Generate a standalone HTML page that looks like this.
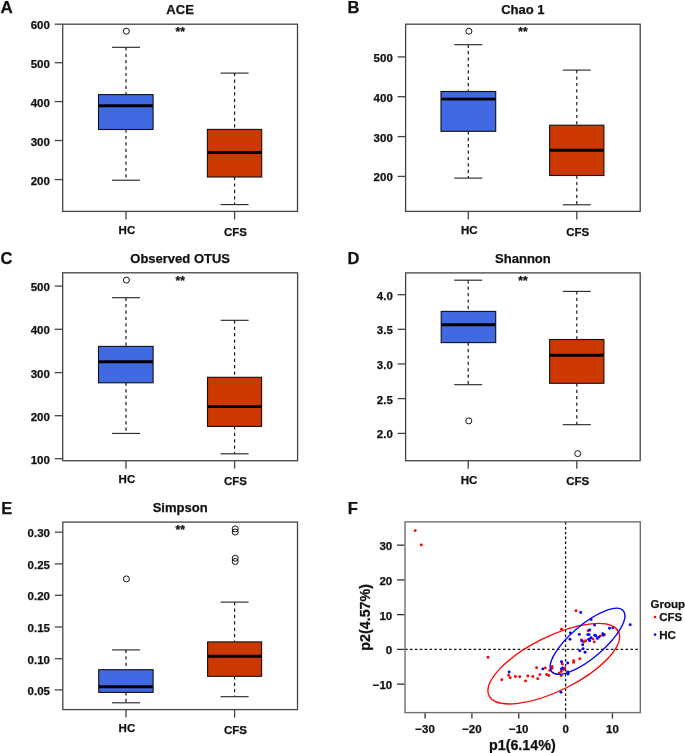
<!DOCTYPE html>
<html><head><meta charset="utf-8"><style>
html,body{margin:0;padding:0;background:#fff;}
body{width:685px;height:753px;overflow:hidden;}
svg{display:block;font-family:"Liberation Sans", sans-serif;will-change:transform;}
</style></head><body>
<svg width="685" height="753" viewBox="0 0 685 753">
<rect width="685" height="753" fill="#fff"/>
<text x="0.6" y="12.8" font-size="17" text-anchor="start" font-weight="bold" fill="#111" stroke="#111" stroke-width="0.25" >A</text>
<text x="180.1" y="13.9" font-size="13" text-anchor="middle" font-weight="bold" fill="#111" stroke="#111" stroke-width="0.25" >ACE</text>
<text x="180.2" y="36.3" font-size="12" text-anchor="middle" font-weight="bold" fill="#111" stroke="#111" stroke-width="0.25" >**</text>
<line x1="126.0" y1="47.3" x2="126.0" y2="94.6" stroke="#111" stroke-width="1.15" stroke-dasharray="3.2,3.2" />
<line x1="126.0" y1="129.5" x2="126.0" y2="180.2" stroke="#111" stroke-width="1.15" stroke-dasharray="3.2,3.2" />
<line x1="112.0" y1="47.3" x2="140.0" y2="47.3" stroke="#222" stroke-width="1.1" />
<line x1="112.0" y1="180.2" x2="140.0" y2="180.2" stroke="#222" stroke-width="1.1" />
<rect x="98.5" y="94.6" width="54.599999999999994" height="34.900000000000006" fill="#4169E1" stroke="#111" stroke-width="1.1"/>
<line x1="98.8" y1="105.8" x2="152.79999999999998" y2="105.8" stroke="#000" stroke-width="2.9" />
<circle cx="126.3" cy="31.2" r="3" fill="none" stroke="#111" stroke-width="1.0"/>
<line x1="234.6" y1="73.1" x2="234.6" y2="129.4" stroke="#111" stroke-width="1.15" stroke-dasharray="3.2,3.2" />
<line x1="234.6" y1="177.0" x2="234.6" y2="204.6" stroke="#111" stroke-width="1.15" stroke-dasharray="3.2,3.2" />
<line x1="220.6" y1="73.1" x2="248.6" y2="73.1" stroke="#222" stroke-width="1.1" />
<line x1="220.6" y1="204.6" x2="248.6" y2="204.6" stroke="#222" stroke-width="1.1" />
<rect x="207.4" y="129.4" width="54.29999999999998" height="47.599999999999994" fill="#CD3700" stroke="#111" stroke-width="1.1"/>
<line x1="207.70000000000002" y1="152.5" x2="261.4" y2="152.5" stroke="#000" stroke-width="2.9" />
<rect x="62.7" y="24.2" width="234.8" height="187.20000000000002" fill="none" stroke="#444" stroke-width="1.3"/>
<line x1="54.7" y1="24.2" x2="62.7" y2="24.2" stroke="#444" stroke-width="1.3" />
<text x="49.900000000000006" y="29.2" font-size="11.5" text-anchor="end" font-weight="bold" fill="#111" stroke="#111" stroke-width="0.25" >600</text>
<line x1="54.7" y1="62.7" x2="62.7" y2="62.7" stroke="#444" stroke-width="1.3" />
<text x="49.900000000000006" y="67.7" font-size="11.5" text-anchor="end" font-weight="bold" fill="#111" stroke="#111" stroke-width="0.25" >500</text>
<line x1="54.7" y1="101.6" x2="62.7" y2="101.6" stroke="#444" stroke-width="1.3" />
<text x="49.900000000000006" y="106.6" font-size="11.5" text-anchor="end" font-weight="bold" fill="#111" stroke="#111" stroke-width="0.25" >400</text>
<line x1="54.7" y1="140.5" x2="62.7" y2="140.5" stroke="#444" stroke-width="1.3" />
<text x="49.900000000000006" y="145.5" font-size="11.5" text-anchor="end" font-weight="bold" fill="#111" stroke="#111" stroke-width="0.25" >300</text>
<line x1="54.7" y1="179.6" x2="62.7" y2="179.6" stroke="#444" stroke-width="1.3" />
<text x="49.900000000000006" y="184.6" font-size="11.5" text-anchor="end" font-weight="bold" fill="#111" stroke="#111" stroke-width="0.25" >200</text>
<line x1="126.0" y1="211.4" x2="126.0" y2="219.4" stroke="#444" stroke-width="1.3" />
<line x1="234.6" y1="211.4" x2="234.6" y2="219.4" stroke="#444" stroke-width="1.3" />
<text x="126.9" y="234.2" font-size="11.5" text-anchor="middle" font-weight="bold" fill="#111" stroke="#111" stroke-width="0.25" >HC</text>
<text x="235.5" y="236.4" font-size="11.5" text-anchor="middle" font-weight="bold" fill="#111" stroke="#111" stroke-width="0.25" >CFS</text>
<text x="347.5" y="12.8" font-size="16.5" text-anchor="start" font-weight="bold" fill="#111" stroke="#111" stroke-width="0.25" >B</text>
<text x="522.9000000000001" y="13.9" font-size="13" text-anchor="middle" font-weight="bold" fill="#111" stroke="#111" stroke-width="0.25" >Chao 1</text>
<text x="523.0000000000001" y="36.3" font-size="12" text-anchor="middle" font-weight="bold" fill="#111" stroke="#111" stroke-width="0.25" >**</text>
<line x1="468.3" y1="44.7" x2="468.3" y2="91.5" stroke="#111" stroke-width="1.15" stroke-dasharray="3.2,3.2" />
<line x1="468.3" y1="131.3" x2="468.3" y2="178.1" stroke="#111" stroke-width="1.15" stroke-dasharray="3.2,3.2" />
<line x1="454.3" y1="44.7" x2="482.3" y2="44.7" stroke="#222" stroke-width="1.1" />
<line x1="454.3" y1="178.1" x2="482.3" y2="178.1" stroke="#222" stroke-width="1.1" />
<rect x="441.0" y="91.5" width="54.69999999999999" height="39.80000000000001" fill="#4169E1" stroke="#111" stroke-width="1.1"/>
<line x1="441.3" y1="99.1" x2="495.4" y2="99.1" stroke="#000" stroke-width="2.9" />
<circle cx="468.9" cy="31.2" r="3" fill="none" stroke="#111" stroke-width="1.0"/>
<line x1="576.8" y1="70.1" x2="576.8" y2="125.2" stroke="#111" stroke-width="1.15" stroke-dasharray="3.2,3.2" />
<line x1="576.8" y1="175.5" x2="576.8" y2="204.8" stroke="#111" stroke-width="1.15" stroke-dasharray="3.2,3.2" />
<line x1="562.8" y1="70.1" x2="590.8" y2="70.1" stroke="#222" stroke-width="1.1" />
<line x1="562.8" y1="204.8" x2="590.8" y2="204.8" stroke="#222" stroke-width="1.1" />
<rect x="549.6" y="125.2" width="54.299999999999955" height="50.3" fill="#CD3700" stroke="#111" stroke-width="1.1"/>
<line x1="549.9" y1="150.3" x2="603.6" y2="150.3" stroke="#000" stroke-width="2.9" />
<rect x="405.6" y="24.2" width="234.60000000000002" height="187.20000000000002" fill="none" stroke="#444" stroke-width="1.3"/>
<line x1="397.6" y1="56.9" x2="405.6" y2="56.9" stroke="#444" stroke-width="1.3" />
<text x="392.8" y="61.9" font-size="11.5" text-anchor="end" font-weight="bold" fill="#111" stroke="#111" stroke-width="0.25" >500</text>
<line x1="397.6" y1="96.7" x2="405.6" y2="96.7" stroke="#444" stroke-width="1.3" />
<text x="392.8" y="101.7" font-size="11.5" text-anchor="end" font-weight="bold" fill="#111" stroke="#111" stroke-width="0.25" >400</text>
<line x1="397.6" y1="136.6" x2="405.6" y2="136.6" stroke="#444" stroke-width="1.3" />
<text x="392.8" y="141.6" font-size="11.5" text-anchor="end" font-weight="bold" fill="#111" stroke="#111" stroke-width="0.25" >300</text>
<line x1="397.6" y1="176.4" x2="405.6" y2="176.4" stroke="#444" stroke-width="1.3" />
<text x="392.8" y="181.4" font-size="11.5" text-anchor="end" font-weight="bold" fill="#111" stroke="#111" stroke-width="0.25" >200</text>
<line x1="468.3" y1="211.4" x2="468.3" y2="219.4" stroke="#444" stroke-width="1.3" />
<line x1="576.8" y1="211.4" x2="576.8" y2="219.4" stroke="#444" stroke-width="1.3" />
<text x="469.2" y="234.2" font-size="11.5" text-anchor="middle" font-weight="bold" fill="#111" stroke="#111" stroke-width="0.25" >HC</text>
<text x="577.6999999999999" y="235.5" font-size="11.5" text-anchor="middle" font-weight="bold" fill="#111" stroke="#111" stroke-width="0.25" >CFS</text>
<text x="0.6" y="263.6" font-size="16.5" text-anchor="start" font-weight="bold" fill="#111" stroke="#111" stroke-width="0.25" >C</text>
<text x="180.15" y="263.4" font-size="13" text-anchor="middle" font-weight="bold" fill="#111" stroke="#111" stroke-width="0.25" >Observed OTUS</text>
<text x="180.25" y="285.1" font-size="12" text-anchor="middle" font-weight="bold" fill="#111" stroke="#111" stroke-width="0.25" >**</text>
<line x1="126.0" y1="297.7" x2="126.0" y2="346.4" stroke="#111" stroke-width="1.15" stroke-dasharray="3.2,3.2" />
<line x1="126.0" y1="382.8" x2="126.0" y2="433.4" stroke="#111" stroke-width="1.15" stroke-dasharray="3.2,3.2" />
<line x1="112.0" y1="297.7" x2="140.0" y2="297.7" stroke="#222" stroke-width="1.1" />
<line x1="112.0" y1="433.4" x2="140.0" y2="433.4" stroke="#222" stroke-width="1.1" />
<rect x="98.5" y="346.4" width="54.599999999999994" height="36.400000000000034" fill="#4169E1" stroke="#111" stroke-width="1.1"/>
<line x1="98.8" y1="361.8" x2="152.79999999999998" y2="361.8" stroke="#000" stroke-width="2.9" />
<circle cx="126.4" cy="280.1" r="3" fill="none" stroke="#111" stroke-width="1.0"/>
<line x1="234.6" y1="320.3" x2="234.6" y2="377.3" stroke="#111" stroke-width="1.15" stroke-dasharray="3.2,3.2" />
<line x1="234.6" y1="426.4" x2="234.6" y2="453.8" stroke="#111" stroke-width="1.15" stroke-dasharray="3.2,3.2" />
<line x1="220.6" y1="320.3" x2="248.6" y2="320.3" stroke="#222" stroke-width="1.1" />
<line x1="220.6" y1="453.8" x2="248.6" y2="453.8" stroke="#222" stroke-width="1.1" />
<rect x="207.5" y="377.3" width="54.10000000000002" height="49.099999999999966" fill="#CD3700" stroke="#111" stroke-width="1.1"/>
<line x1="207.8" y1="406.6" x2="261.3" y2="406.6" stroke="#000" stroke-width="2.9" />
<rect x="62.7" y="272.8" width="234.90000000000003" height="187.89999999999998" fill="none" stroke="#444" stroke-width="1.3"/>
<line x1="54.7" y1="286.1" x2="62.7" y2="286.1" stroke="#444" stroke-width="1.3" />
<text x="49.900000000000006" y="291.1" font-size="11.5" text-anchor="end" font-weight="bold" fill="#111" stroke="#111" stroke-width="0.25" >500</text>
<line x1="54.7" y1="329.3" x2="62.7" y2="329.3" stroke="#444" stroke-width="1.3" />
<text x="49.900000000000006" y="334.3" font-size="11.5" text-anchor="end" font-weight="bold" fill="#111" stroke="#111" stroke-width="0.25" >400</text>
<line x1="54.7" y1="372.6" x2="62.7" y2="372.6" stroke="#444" stroke-width="1.3" />
<text x="49.900000000000006" y="377.6" font-size="11.5" text-anchor="end" font-weight="bold" fill="#111" stroke="#111" stroke-width="0.25" >300</text>
<line x1="54.7" y1="415.7" x2="62.7" y2="415.7" stroke="#444" stroke-width="1.3" />
<text x="49.900000000000006" y="420.7" font-size="11.5" text-anchor="end" font-weight="bold" fill="#111" stroke="#111" stroke-width="0.25" >200</text>
<line x1="54.7" y1="458.7" x2="62.7" y2="458.7" stroke="#444" stroke-width="1.3" />
<text x="49.900000000000006" y="463.7" font-size="11.5" text-anchor="end" font-weight="bold" fill="#111" stroke="#111" stroke-width="0.25" >100</text>
<line x1="126.0" y1="460.7" x2="126.0" y2="468.7" stroke="#444" stroke-width="1.3" />
<line x1="234.6" y1="460.7" x2="234.6" y2="468.7" stroke="#444" stroke-width="1.3" />
<text x="126.9" y="483.2" font-size="11.5" text-anchor="middle" font-weight="bold" fill="#111" stroke="#111" stroke-width="0.25" >HC</text>
<text x="235.5" y="484.6" font-size="11.5" text-anchor="middle" font-weight="bold" fill="#111" stroke="#111" stroke-width="0.25" >CFS</text>
<text x="347.5" y="263.6" font-size="16.5" text-anchor="start" font-weight="bold" fill="#111" stroke="#111" stroke-width="0.25" >D</text>
<text x="522.9000000000001" y="263.4" font-size="13" text-anchor="middle" font-weight="bold" fill="#111" stroke="#111" stroke-width="0.25" >Shannon</text>
<text x="523.0000000000001" y="285.1" font-size="12" text-anchor="middle" font-weight="bold" fill="#111" stroke="#111" stroke-width="0.25" >**</text>
<line x1="468.2" y1="280.2" x2="468.2" y2="311.4" stroke="#111" stroke-width="1.15" stroke-dasharray="3.2,3.2" />
<line x1="468.2" y1="342.6" x2="468.2" y2="384.7" stroke="#111" stroke-width="1.15" stroke-dasharray="3.2,3.2" />
<line x1="454.2" y1="280.2" x2="482.2" y2="280.2" stroke="#222" stroke-width="1.1" />
<line x1="454.2" y1="384.7" x2="482.2" y2="384.7" stroke="#222" stroke-width="1.1" />
<rect x="441.2" y="311.4" width="54.5" height="31.200000000000045" fill="#4169E1" stroke="#111" stroke-width="1.1"/>
<line x1="441.5" y1="324.7" x2="495.4" y2="324.7" stroke="#000" stroke-width="2.9" />
<circle cx="468.8" cy="420.9" r="3" fill="none" stroke="#111" stroke-width="1.0"/>
<line x1="576.8" y1="291.4" x2="576.8" y2="339.5" stroke="#111" stroke-width="1.15" stroke-dasharray="3.2,3.2" />
<line x1="576.8" y1="383.3" x2="576.8" y2="424.7" stroke="#111" stroke-width="1.15" stroke-dasharray="3.2,3.2" />
<line x1="562.8" y1="291.4" x2="590.8" y2="291.4" stroke="#222" stroke-width="1.1" />
<line x1="562.8" y1="424.7" x2="590.8" y2="424.7" stroke="#222" stroke-width="1.1" />
<rect x="549.6" y="339.5" width="54.299999999999955" height="43.80000000000001" fill="#CD3700" stroke="#111" stroke-width="1.1"/>
<line x1="549.9" y1="355.3" x2="603.6" y2="355.3" stroke="#000" stroke-width="2.9" />
<circle cx="577.7" cy="453.6" r="3" fill="none" stroke="#111" stroke-width="1.0"/>
<rect x="405.6" y="272.9" width="234.60000000000002" height="187.8" fill="none" stroke="#444" stroke-width="1.3"/>
<line x1="397.6" y1="294.7" x2="405.6" y2="294.7" stroke="#444" stroke-width="1.3" />
<text x="392.8" y="299.7" font-size="11.5" text-anchor="end" font-weight="bold" fill="#111" stroke="#111" stroke-width="0.25" >4.0</text>
<line x1="397.6" y1="329.3" x2="405.6" y2="329.3" stroke="#444" stroke-width="1.3" />
<text x="392.8" y="334.3" font-size="11.5" text-anchor="end" font-weight="bold" fill="#111" stroke="#111" stroke-width="0.25" >3.5</text>
<line x1="397.6" y1="363.9" x2="405.6" y2="363.9" stroke="#444" stroke-width="1.3" />
<text x="392.8" y="368.9" font-size="11.5" text-anchor="end" font-weight="bold" fill="#111" stroke="#111" stroke-width="0.25" >3.0</text>
<line x1="397.6" y1="398.6" x2="405.6" y2="398.6" stroke="#444" stroke-width="1.3" />
<text x="392.8" y="403.6" font-size="11.5" text-anchor="end" font-weight="bold" fill="#111" stroke="#111" stroke-width="0.25" >2.5</text>
<line x1="397.6" y1="433.4" x2="405.6" y2="433.4" stroke="#444" stroke-width="1.3" />
<text x="392.8" y="438.4" font-size="11.5" text-anchor="end" font-weight="bold" fill="#111" stroke="#111" stroke-width="0.25" >2.0</text>
<line x1="468.2" y1="460.7" x2="468.2" y2="468.7" stroke="#444" stroke-width="1.3" />
<line x1="576.8" y1="460.7" x2="576.8" y2="468.7" stroke="#444" stroke-width="1.3" />
<text x="469.09999999999997" y="483.8" font-size="11.5" text-anchor="middle" font-weight="bold" fill="#111" stroke="#111" stroke-width="0.25" >HC</text>
<text x="577.6999999999999" y="484.6" font-size="11.5" text-anchor="middle" font-weight="bold" fill="#111" stroke="#111" stroke-width="0.25" >CFS</text>
<text x="1.2" y="514.2" font-size="16.5" text-anchor="start" font-weight="bold" fill="#111" stroke="#111" stroke-width="0.25" >E</text>
<text x="180.15" y="511.7" font-size="13" text-anchor="middle" font-weight="bold" fill="#111" stroke="#111" stroke-width="0.25" >Simpson</text>
<text x="180.25" y="534.3" font-size="12" text-anchor="middle" font-weight="bold" fill="#111" stroke="#111" stroke-width="0.25" >**</text>
<line x1="126.0" y1="649.9" x2="126.0" y2="669.7" stroke="#111" stroke-width="1.15" stroke-dasharray="3.2,3.2" />
<line x1="126.0" y1="692.4" x2="126.0" y2="702.8" stroke="#111" stroke-width="1.15" stroke-dasharray="3.2,3.2" />
<line x1="112.0" y1="649.9" x2="140.0" y2="649.9" stroke="#222" stroke-width="1.1" />
<line x1="112.0" y1="702.8" x2="140.0" y2="702.8" stroke="#222" stroke-width="1.1" />
<rect x="98.7" y="669.7" width="54.39999999999999" height="22.699999999999932" fill="#4169E1" stroke="#111" stroke-width="1.1"/>
<line x1="99.0" y1="686.7" x2="152.79999999999998" y2="686.7" stroke="#000" stroke-width="2.9" />
<circle cx="126.4" cy="578.9" r="3" fill="none" stroke="#111" stroke-width="1.0"/>
<line x1="234.6" y1="602.1" x2="234.6" y2="641.9" stroke="#111" stroke-width="1.15" stroke-dasharray="3.2,3.2" />
<line x1="234.6" y1="676.3" x2="234.6" y2="696.7" stroke="#111" stroke-width="1.15" stroke-dasharray="3.2,3.2" />
<line x1="220.6" y1="602.1" x2="248.6" y2="602.1" stroke="#222" stroke-width="1.1" />
<line x1="220.6" y1="696.7" x2="248.6" y2="696.7" stroke="#222" stroke-width="1.1" />
<rect x="207.6" y="641.9" width="54.00000000000003" height="34.39999999999998" fill="#CD3700" stroke="#111" stroke-width="1.1"/>
<line x1="207.9" y1="656.3" x2="261.3" y2="656.3" stroke="#000" stroke-width="2.9" />
<circle cx="235.2" cy="528.9" r="3" fill="none" stroke="#111" stroke-width="1.0"/>
<circle cx="235.2" cy="532.0" r="3" fill="none" stroke="#111" stroke-width="1.0"/>
<circle cx="235.2" cy="558.3" r="3" fill="none" stroke="#111" stroke-width="1.0"/>
<circle cx="235.2" cy="561.5" r="3" fill="none" stroke="#111" stroke-width="1.0"/>
<rect x="62.8" y="522.1" width="234.7" height="187.5" fill="none" stroke="#444" stroke-width="1.3"/>
<line x1="54.8" y1="532.2" x2="62.8" y2="532.2" stroke="#444" stroke-width="1.3" />
<text x="50.0" y="537.2" font-size="11.5" text-anchor="end" font-weight="bold" fill="#111" stroke="#111" stroke-width="0.25" >0.30</text>
<line x1="54.8" y1="563.9" x2="62.8" y2="563.9" stroke="#444" stroke-width="1.3" />
<text x="50.0" y="568.9" font-size="11.5" text-anchor="end" font-weight="bold" fill="#111" stroke="#111" stroke-width="0.25" >0.25</text>
<line x1="54.8" y1="595.3" x2="62.8" y2="595.3" stroke="#444" stroke-width="1.3" />
<text x="50.0" y="600.3" font-size="11.5" text-anchor="end" font-weight="bold" fill="#111" stroke="#111" stroke-width="0.25" >0.20</text>
<line x1="54.8" y1="627.0" x2="62.8" y2="627.0" stroke="#444" stroke-width="1.3" />
<text x="50.0" y="632.0" font-size="11.5" text-anchor="end" font-weight="bold" fill="#111" stroke="#111" stroke-width="0.25" >0.15</text>
<line x1="54.8" y1="658.7" x2="62.8" y2="658.7" stroke="#444" stroke-width="1.3" />
<text x="50.0" y="663.7" font-size="11.5" text-anchor="end" font-weight="bold" fill="#111" stroke="#111" stroke-width="0.25" >0.10</text>
<line x1="54.8" y1="689.9" x2="62.8" y2="689.9" stroke="#444" stroke-width="1.3" />
<text x="50.0" y="694.9" font-size="11.5" text-anchor="end" font-weight="bold" fill="#111" stroke="#111" stroke-width="0.25" >0.05</text>
<line x1="126.0" y1="709.6" x2="126.0" y2="717.6" stroke="#444" stroke-width="1.3" />
<line x1="234.6" y1="709.6" x2="234.6" y2="717.6" stroke="#444" stroke-width="1.3" />
<text x="126.9" y="732.4" font-size="11.5" text-anchor="middle" font-weight="bold" fill="#111" stroke="#111" stroke-width="0.25" >HC</text>
<text x="235.5" y="733.6" font-size="11.5" text-anchor="middle" font-weight="bold" fill="#111" stroke="#111" stroke-width="0.25" >CFS</text>
<text x="347.8" y="514.2" font-size="16.5" text-anchor="start" font-weight="bold" fill="#111" stroke="#111" stroke-width="0.25" >F</text>
<line x1="405.0" y1="649.4" x2="640.3" y2="649.4" stroke="#111" stroke-width="1.3" stroke-dasharray="2.6,2.3" />
<line x1="565.6" y1="521.9" x2="565.6" y2="712.6" stroke="#111" stroke-width="1.3" stroke-dasharray="2.6,2.3" />
<circle cx="415.2" cy="530.6" r="1.45" fill="#ff0000"/>
<circle cx="421.3" cy="544.9" r="1.45" fill="#ff0000"/>
<circle cx="488.0" cy="657.2" r="1.45" fill="#ff0000"/>
<circle cx="501.8" cy="679.8" r="1.45" fill="#ff0000"/>
<circle cx="508.6" cy="675.3" r="1.45" fill="#ff0000"/>
<circle cx="510.2" cy="677.8" r="1.45" fill="#ff0000"/>
<circle cx="515.4" cy="676.5" r="1.45" fill="#ff0000"/>
<circle cx="519.7" cy="676.8" r="1.45" fill="#ff0000"/>
<circle cx="525.5" cy="680.9" r="1.45" fill="#ff0000"/>
<circle cx="527.8" cy="676" r="1.45" fill="#ff0000"/>
<circle cx="532.8" cy="676.5" r="1.45" fill="#ff0000"/>
<circle cx="536.6" cy="667.8" r="1.45" fill="#ff0000"/>
<circle cx="537.8" cy="678.7" r="1.45" fill="#ff0000"/>
<circle cx="539.9" cy="674.6" r="1.45" fill="#ff0000"/>
<circle cx="545.3" cy="667.9" r="1.45" fill="#ff0000"/>
<circle cx="546.6" cy="674.5" r="1.45" fill="#ff0000"/>
<circle cx="548.8" cy="675.5" r="1.45" fill="#ff0000"/>
<circle cx="552" cy="666.4" r="1.45" fill="#ff0000"/>
<circle cx="552" cy="668.2" r="1.45" fill="#ff0000"/>
<circle cx="549.9" cy="670.4" r="1.45" fill="#ff0000"/>
<circle cx="562.3" cy="663.9" r="1.45" fill="#ff0000"/>
<circle cx="564.8" cy="668.1" r="1.45" fill="#ff0000"/>
<circle cx="563.7" cy="669.6" r="1.45" fill="#ff0000"/>
<circle cx="561.2" cy="671.5" r="1.45" fill="#ff0000"/>
<circle cx="559.1" cy="673.2" r="1.45" fill="#ff0000"/>
<circle cx="561.2" cy="675.5" r="1.45" fill="#ff0000"/>
<circle cx="573.6" cy="660.6" r="1.45" fill="#ff0000"/>
<circle cx="573.6" cy="662.4" r="1.45" fill="#ff0000"/>
<circle cx="579.8" cy="658.8" r="1.45" fill="#ff0000"/>
<circle cx="576" cy="610.7" r="1.45" fill="#ff0000"/>
<circle cx="561.6" cy="629.3" r="1.45" fill="#ff0000"/>
<circle cx="588.2" cy="630.7" r="1.45" fill="#ff0000"/>
<circle cx="581.3" cy="639.9" r="1.45" fill="#ff0000"/>
<circle cx="583.8" cy="641.9" r="1.45" fill="#ff0000"/>
<circle cx="585.7" cy="640.8" r="1.45" fill="#ff0000"/>
<circle cx="593" cy="638.9" r="1.45" fill="#ff0000"/>
<circle cx="594.2" cy="641.9" r="1.45" fill="#ff0000"/>
<circle cx="600.4" cy="635.9" r="1.45" fill="#ff0000"/>
<circle cx="604.5" cy="634.6" r="1.45" fill="#ff0000"/>
<circle cx="509.1" cy="672" r="1.45" fill="#0000ff"/>
<circle cx="542.8" cy="668.9" r="1.45" fill="#0000ff"/>
<circle cx="561.5" cy="661.7" r="1.45" fill="#0000ff"/>
<circle cx="567.7" cy="663" r="1.45" fill="#0000ff"/>
<circle cx="562.6" cy="667.9" r="1.45" fill="#0000ff"/>
<circle cx="561.5" cy="669" r="1.45" fill="#0000ff"/>
<circle cx="567.7" cy="671.9" r="1.45" fill="#0000ff"/>
<circle cx="568.1" cy="674.1" r="1.45" fill="#0000ff"/>
<circle cx="560.9" cy="692.3" r="1.45" fill="#0000ff"/>
<circle cx="579.8" cy="650.7" r="1.45" fill="#0000ff"/>
<circle cx="585.1" cy="652.3" r="1.45" fill="#0000ff"/>
<circle cx="583.1" cy="648.8" r="1.45" fill="#0000ff"/>
<circle cx="582.7" cy="644.8" r="1.45" fill="#0000ff"/>
<circle cx="580.7" cy="612.5" r="1.45" fill="#0000ff"/>
<circle cx="591.1" cy="619.5" r="1.45" fill="#0000ff"/>
<circle cx="594.6" cy="625.1" r="1.45" fill="#0000ff"/>
<circle cx="570.3" cy="633" r="1.45" fill="#0000ff"/>
<circle cx="570" cy="639.3" r="1.45" fill="#0000ff"/>
<circle cx="579.3" cy="634.4" r="1.45" fill="#0000ff"/>
<circle cx="589.7" cy="630" r="1.45" fill="#0000ff"/>
<circle cx="587.7" cy="634.6" r="1.45" fill="#0000ff"/>
<circle cx="589.2" cy="634.6" r="1.45" fill="#0000ff"/>
<circle cx="582" cy="640.9" r="1.45" fill="#0000ff"/>
<circle cx="588.7" cy="639.3" r="1.45" fill="#0000ff"/>
<circle cx="589.7" cy="640.8" r="1.45" fill="#0000ff"/>
<circle cx="591" cy="637.8" r="1.45" fill="#0000ff"/>
<circle cx="594.8" cy="635.3" r="1.45" fill="#0000ff"/>
<circle cx="595.9" cy="636" r="1.45" fill="#0000ff"/>
<circle cx="597.3" cy="638.6" r="1.45" fill="#0000ff"/>
<circle cx="598.8" cy="637.1" r="1.45" fill="#0000ff"/>
<circle cx="602.8" cy="633.8" r="1.45" fill="#0000ff"/>
<circle cx="603.4" cy="635.3" r="1.45" fill="#0000ff"/>
<circle cx="609.5" cy="628.2" r="1.45" fill="#0000ff"/>
<circle cx="612.9" cy="627.8" r="1.45" fill="#0000ff"/>
<circle cx="630.2" cy="624.7" r="1.45" fill="#0000ff"/>
<ellipse cx="553.77" cy="663.70" rx="72.21" ry="27.15" transform="rotate(-26.37 553.77 663.70)" fill="none" stroke="#ff0000" stroke-width="1.3"/>
<ellipse cx="587.55" cy="641.30" rx="47.03" ry="16.56" transform="rotate(-40.42 587.55 641.30)" fill="none" stroke="#0000ff" stroke-width="1.3"/>
<rect x="405.0" y="521.9" width="235.29999999999995" height="190.70000000000005" fill="none" stroke="#6e6e6e" stroke-width="1.4"/>
<line x1="397.0" y1="545.15" x2="404.3" y2="545.15" stroke="#333" stroke-width="1.3" />
<text x="392.2" y="550.15" font-size="11.5" text-anchor="end" font-weight="bold" fill="#111" stroke="#111" stroke-width="0.25" >30</text>
<line x1="397.0" y1="579.9" x2="404.3" y2="579.9" stroke="#333" stroke-width="1.3" />
<text x="392.2" y="584.9" font-size="11.5" text-anchor="end" font-weight="bold" fill="#111" stroke="#111" stroke-width="0.25" >20</text>
<line x1="397.0" y1="614.65" x2="404.3" y2="614.65" stroke="#333" stroke-width="1.3" />
<text x="392.2" y="619.65" font-size="11.5" text-anchor="end" font-weight="bold" fill="#111" stroke="#111" stroke-width="0.25" >10</text>
<line x1="397.0" y1="649.4" x2="404.3" y2="649.4" stroke="#333" stroke-width="1.3" />
<text x="392.2" y="654.4" font-size="11.5" text-anchor="end" font-weight="bold" fill="#111" stroke="#111" stroke-width="0.25" >0</text>
<line x1="397.0" y1="684.15" x2="404.3" y2="684.15" stroke="#333" stroke-width="1.3" />
<text x="392.2" y="689.15" font-size="11.5" text-anchor="end" font-weight="bold" fill="#111" stroke="#111" stroke-width="0.25" >−10</text>
<line x1="425.05000000000007" y1="713.3000000000001" x2="425.05000000000007" y2="718.6" stroke="#333" stroke-width="1.3" />
<text x="425.05000000000007" y="732.7" font-size="11.5" text-anchor="middle" font-weight="bold" fill="#111" stroke="#111" stroke-width="0.25" >−30</text>
<line x1="471.90000000000003" y1="713.3000000000001" x2="471.90000000000003" y2="718.6" stroke="#333" stroke-width="1.3" />
<text x="471.90000000000003" y="732.7" font-size="11.5" text-anchor="middle" font-weight="bold" fill="#111" stroke="#111" stroke-width="0.25" >−20</text>
<line x1="518.75" y1="713.3000000000001" x2="518.75" y2="718.6" stroke="#333" stroke-width="1.3" />
<text x="518.75" y="732.7" font-size="11.5" text-anchor="middle" font-weight="bold" fill="#111" stroke="#111" stroke-width="0.25" >−10</text>
<line x1="565.6" y1="713.3000000000001" x2="565.6" y2="718.6" stroke="#333" stroke-width="1.3" />
<text x="565.6" y="732.7" font-size="11.5" text-anchor="middle" font-weight="bold" fill="#111" stroke="#111" stroke-width="0.25" >0</text>
<line x1="612.45" y1="713.3000000000001" x2="612.45" y2="718.6" stroke="#333" stroke-width="1.3" />
<text x="612.45" y="732.7" font-size="11.5" text-anchor="middle" font-weight="bold" fill="#111" stroke="#111" stroke-width="0.25" >10</text>
<text x="522.35" y="750.2" font-size="14.3" text-anchor="middle" font-weight="bold" fill="#111" stroke="#111" stroke-width="0.25" >p1(6.14%)</text>
<text x="0" y="0" font-size="14.3" text-anchor="middle" font-weight="bold" fill="#111" stroke="#111" stroke-width="0.25" transform="translate(370.4 617.35) rotate(-90)">p2(4.57%)</text>
<text x="650.6" y="608.1" font-size="11.5" text-anchor="start" font-weight="bold" fill="#111" stroke="#111" stroke-width="0.25" >Group</text>
<text x="659.2" y="621.2" font-size="11.5" text-anchor="start" font-weight="bold" fill="#111" stroke="#111" stroke-width="0.25" >CFS</text>
<text x="659.2" y="638.6" font-size="11.5" text-anchor="start" font-weight="bold" fill="#111" stroke="#111" stroke-width="0.25" >HC</text>
<circle cx="655.1" cy="617" r="1.3" fill="#ff0000"/>
<circle cx="655.1" cy="634.6" r="1.3" fill="#0000ff"/>
</svg>
</body></html>
